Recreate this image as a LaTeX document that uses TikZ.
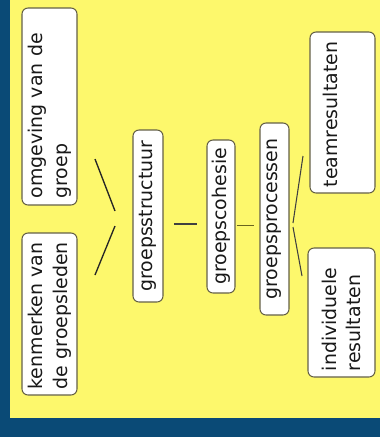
\documentclass[tikz,border=0pt]{standalone}
\usepackage{fontspec}
\setmainfont{DejaVu Sans}
\definecolor{bgblue}{RGB}{10,74,118}
\definecolor{bgyellow}{RGB}{253,248,108}
\definecolor{boxline}{RGB}{100,96,70}
\definecolor{txt}{RGB}{25,25,25}
\definecolor{olive}{RGB}{105,100,30}
\tikzset{
  card/.style={draw=boxline, line width=0.8pt, fill=white, rounded corners=4.5pt,
    rotate=90, text=txt, font=\fontsize{14.2}{18.5}\selectfont, inner xsep=4pt, inner ysep=0pt},
  link/.style={draw=black!85, line width=1pt},
  linkthin/.style={draw=black!75, line width=0.8pt},
}
\begin{document}
\begin{tikzpicture}[x=0.75pt,y=-0.75pt]
\useasboundingbox (0,0) rectangle (380,437);
\fill[bgblue] (0,0) rectangle (380,437);
\fill[bgyellow] (10,0) rectangle (380,418);

\node[card, minimum width=147.75pt, minimum height=41.25pt, text width=138pt, align=left] (omg) at (49.5,106.5) {omgeving van de\\groep};
\node[card, minimum width=121.5pt, minimum height=41.25pt, text width=113pt, align=left] (ken) at (49.5,314) {kenmerken van\\de groepsleden};
\node[card, minimum width=129pt, minimum height=22.5pt, align=center] (gs) at (148,216) {groepsstructuur};
\node[card, minimum width=114.75pt, minimum height=21pt, align=center] (gc) at (221,216.5) {groepscohesie};
\node[card, minimum width=144pt, minimum height=21.75pt, align=center] (gp) at (274.5,219) {groepsprocessen};
\node[card, minimum width=120.75pt, minimum height=48.75pt, text width=112pt, align=left] (team) at (342.5,112.5) {teamresultaten\\\mbox{}};
\node[card, minimum width=96.75pt, minimum height=50.25pt, text width=88pt, align=left] (ind) at (341.5,312.5) {individuele\\resultaten};

\coordinate (a1) at (95,159);  \coordinate (a2) at (115,211);
\coordinate (b1) at (115,226); \coordinate (b2) at (95,275);
\coordinate (c1) at (174,224); \coordinate (c2) at (197,224);
\coordinate (d1) at (237,225.5); \coordinate (d2) at (254,225.5);
\coordinate (e1) at (303,156); \coordinate (e2) at (293,223);
\coordinate (f1) at (293,227); \coordinate (f2) at (302,276);

\draw[link] (a1) -- (a2);
\draw[link] (b1) -- (b2);
\draw[linkthin] (c1) -- (c2);
\draw[draw=olive, line width=1.2pt] (d1) -- (d2);
\draw[linkthin] (e1) -- (e2);
\draw[linkthin] (f1) -- (f2);
\end{tikzpicture}
\end{document}
